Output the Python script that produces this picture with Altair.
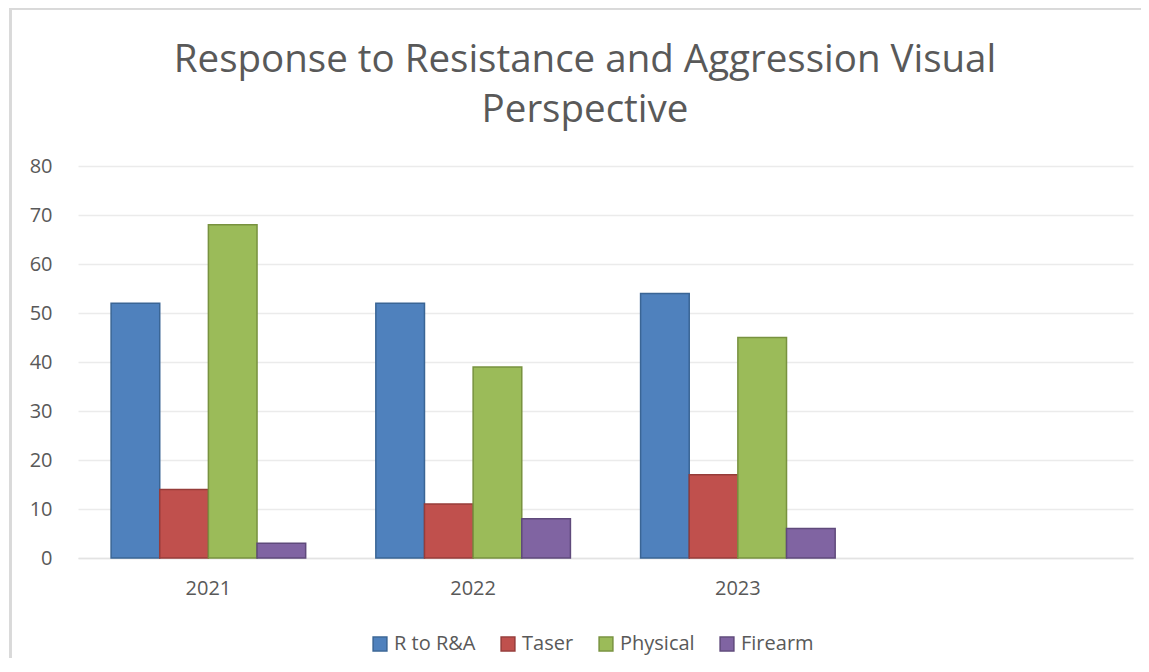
import altair as alt
import pandas as pd

years = ["2021", "2022", "2023"]
series = ["R to R&A", "Taser", "Physical", "Firearm"]
r_to_ra = [52, 52, 54]
taser = [14, 11, 17]
physical = [68, 39, 45]
firearm = [3, 8, 6]

title_lines = ["Response to Resistance and Aggression Visual", "Perspective"]

fills = ["#4F81BD", "#C0504D", "#9BBB59", "#8064A2"]
strokes = ["#3A6595", "#963C3A", "#78923F", "#5F4A7B"]

rows = []
for name, vals in zip(series, [r_to_ra, taser, physical, firearm]):
    for y, v in zip(years, vals):
        rows.append({"Year": y, "Series": name, "Value": v})
df = pd.DataFrame(rows)

x_domain = years + [" "]
FONT = "Open Sans"
GRAY = "#595959"

bars = alt.Chart(df).mark_bar(strokeWidth=1.5).encode(
    x=alt.X("Year:N", scale=alt.Scale(domain=x_domain, paddingInner=0.265, paddingOuter=0.125),
            axis=alt.Axis(title=None, labelAngle=0, labelFontSize=20, labelColor=GRAY, labelFont=FONT,
                          labelPadding=20, ticks=False, domainColor="#E3E3E3", domainWidth=1.5, grid=False)),
    xOffset=alt.XOffset("Series:N", sort=series),
    y=alt.Y("Value:Q", scale=alt.Scale(domain=[0, 80]),
            axis=alt.Axis(title=None, values=list(range(0, 81, 10)), labelFontSize=20, labelColor=GRAY,
                          labelFont=FONT, labelPadding=26, ticks=False, domain=False,
                          gridColor="#EBEBEB", gridWidth=1.5)),
    fill=alt.Fill("Series:N", sort=series, scale=alt.Scale(domain=series, range=fills),
                  legend=alt.Legend(title=None, orient="none", legendX=292, legendY=468, direction="horizontal",
                                    symbolType="square", symbolSize=190, symbolStrokeWidth=1.5,
                                    labelFontSize=20, labelFont=FONT, labelColor=GRAY, labelOffset=4,
                                    columnPadding=22, symbolOpacity=1)),
    stroke=alt.Stroke("Series:N", sort=series, scale=alt.Scale(domain=series, range=strokes), legend=None),
)

title1 = alt.Chart(pd.DataFrame({"t": [title_lines[0]]})).mark_text(
    font=FONT, fontSize=38.5, color=GRAY, align="center", baseline="alphabetic").encode(
    text="t:N", x=alt.value(507), y=alt.value(-94))
title2 = alt.Chart(pd.DataFrame({"t": [title_lines[1]]})).mark_text(
    font=FONT, fontSize=38.5, color=GRAY, align="center", baseline="alphabetic").encode(
    text="t:N", x=alt.value(507), y=alt.value(-44))

border_left = alt.Chart(df).mark_rule(color="#D9D9D9", strokeWidth=2).encode(
    x=alt.value(-67.5), y=alt.value(-157.5), y2=alt.value(520))
border_top = alt.Chart(df).mark_rule(color="#D9D9D9", strokeWidth=2).encode(
    x=alt.value(-68.5), x2=alt.value(1100), y=alt.value(-157.5))

chart = alt.layer(border_left, border_top, title1, title2, bars).properties(
    width=1055, height=392,
    autosize=alt.AutoSizeParams(type="none"),
    padding={"left": 70, "top": 158, "right": 8, "bottom": 100},
).configure_view(stroke=None)

chart.save("out.html", embed_options={"renderer": "svg", "actions": False})
